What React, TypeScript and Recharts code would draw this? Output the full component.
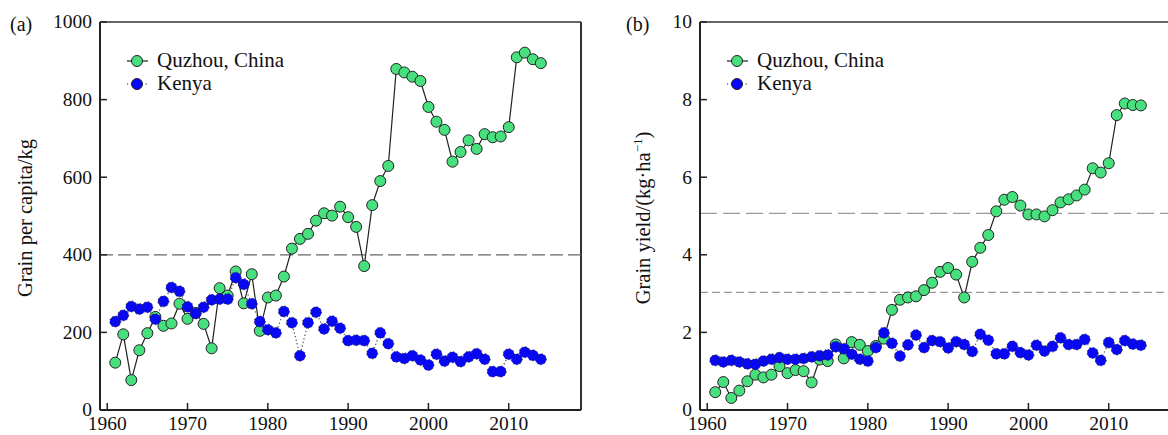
import React from "react";
import { Line, LineChart, ReferenceLine, XAxis, YAxis } from "recharts";

const years = Array.from({ length: 54 }, (_, i) => 1961 + i);

// (a) grain per capita, kg
const quzhouPerCapita = [
  122, 195, 77, 154, 198, 240, 217, 223, 274, 235,
  250, 222, 159, 314, 295, 357, 275, 350, 204, 290,
  295, 344, 416, 441, 454, 488, 507, 501, 524, 497,
  472, 371, 528, 590, 629, 879, 870, 859, 848, 781,
  743, 722, 640, 665, 695, 673, 711, 703, 705, 729,
  909, 921, 904, 894,
];
const kenyaPerCapita = [
  228, 244, 267, 260, 265, 234, 280, 316, 306, 266,
  249, 265, 284, 286, 286, 341, 324, 274, 228, 207,
  199, 254, 225, 140, 225, 252, 209, 229, 211, 179,
  180, 179, 146, 199, 171, 137, 133, 140, 129, 116,
  144, 126, 136, 125, 137, 145, 131, 99, 99, 144,
  131, 149, 141, 131,
];

// (b) grain yield
const quzhouYield = [
  0.46, 0.72, 0.31, 0.5, 0.74, 0.91, 0.84, 0.91, 1.13, 0.95,
  1.03, 1.0, 0.71, 1.3, 1.26, 1.69, 1.33, 1.75, 1.68, 1.52,
  1.65, 1.84, 2.58, 2.84, 2.9, 2.93, 3.09, 3.28, 3.56, 3.66,
  3.49, 2.9, 3.82, 4.18, 4.51, 5.12, 5.42, 5.49, 5.27, 5.04,
  5.04, 4.99, 5.15, 5.35, 5.43, 5.53, 5.68, 6.23, 6.12, 6.36,
  7.6, 7.9, 7.86, 7.85,
];
const kenyaYield = [
  1.28, 1.24, 1.28, 1.24, 1.19, 1.18, 1.26, 1.31, 1.35, 1.31,
  1.31, 1.33, 1.37, 1.4, 1.42, 1.63, 1.58, 1.44, 1.31, 1.26,
  1.61, 1.99, 1.72, 1.39, 1.68, 1.93, 1.61, 1.79, 1.76, 1.6,
  1.76, 1.69, 1.51, 1.95, 1.8, 1.45, 1.45, 1.64, 1.48, 1.42,
  1.67, 1.52, 1.64, 1.86, 1.69, 1.69, 1.82, 1.47, 1.28, 1.74,
  1.56, 1.79, 1.7, 1.67,
];

const xTicks = [1960, 1970, 1980, 1990, 2000, 2010];
const perCapitaTicks = [0, 200, 400, 600, 800, 1000];
const yieldTicks = [0, 2, 4, 6, 8, 10];

const perCapitaData = years.map((year, i) => ({
  year,
  quzhou: quzhouPerCapita[i],
  kenya: kenyaPerCapita[i],
}));
const yieldData = years.map((year, i) => ({
  year,
  quzhou: quzhouYield[i],
  kenya: kenyaYield[i],
}));

const FONT = '"Liberation Serif", "Times New Roman", serif';
const GREEN = "#48E07F";
const BLUE = "#0808F4";
const INK = "#222";
const X_DOMAIN: [number, number] = [1959.1, 2019];

function XTick({ x, y, payload }: any) {
  return (
    <g>
      <line x1={x} y1={y} x2={x} y2={y - 7} stroke={INK} strokeWidth={1.5} />
      <text x={x} y={y + 20} textAnchor="middle" fontSize={19.5} fontFamily={FONT} fill="#111">
        {payload.value}
      </text>
    </g>
  );
}

function YTick({ x, y, payload }: any) {
  return (
    <g>
      <line x1={x} y1={y} x2={x + 7} y2={y} stroke={INK} strokeWidth={1.5} />
      <text x={x - 8} y={y} dy="0.33em" textAnchor="end" fontSize={19.5} fontFamily={FONT} fill="#111">
        {payload.value}
      </text>
    </g>
  );
}

function LegendBox({ left }: { left: number }) {
  const rows = [
    { name: "Quzhou, China", fill: GREEN, dash: undefined },
    { name: "Kenya", fill: BLUE, dash: "1.2 2.5" },
  ];
  return (
    <div style={{ position: "absolute", left, top: 49, fontFamily: FONT, fontSize: 21, color: "#111" }}>
      {rows.map((r) => (
        <div key={r.name} style={{ display: "flex", alignItems: "center", height: 23 }}>
          <svg width={30} height={14} style={{ display: "block" }}>
            <line x1={0} y1={7} x2={21} y2={7} stroke={INK} strokeWidth={1.2} strokeDasharray={r.dash} />
            <circle cx={10} cy={7} r={5.5} fill={r.fill} stroke={INK} strokeWidth={1} />
          </svg>
          <span style={{ whiteSpace: "nowrap" }}>{r.name}</span>
        </div>
      ))}
    </div>
  );
}

function Panel({
  data,
  yDomain,
  yTicks,
  refLines,
  rightBorder,
}: {
  data: { year: number; quzhou: number; kenya: number }[];
  yDomain: [number, number];
  yTicks: number[];
  refLines: { y: number; stroke: string; dash: string }[];
  rightBorder: boolean;
}) {
  return (
    <LineChart width={590} height={435} data={data} margin={{ top: 22, right: 9, bottom: 0, left: 60 }}>
      <XAxis
        dataKey="year"
        type="number"
        domain={X_DOMAIN}
        ticks={xTicks}
        allowDataOverflow
        height={25}
        tickSize={0}
        tickMargin={0}
        tickLine={false}
        axisLine={{ stroke: INK, strokeWidth: 2 }}
        tick={<XTick />}
      />
      <YAxis
        type="number"
        domain={yDomain}
        ticks={yTicks}
        allowDataOverflow
        width={40}
        tickSize={0}
        tickMargin={0}
        tickLine={false}
        axisLine={{ stroke: INK, strokeWidth: 2 }}
        tick={<YTick />}
      />
      <ReferenceLine y={yDomain[1]} stroke="#333" strokeWidth={1.5} />
      {rightBorder && <ReferenceLine x={X_DOMAIN[1]} stroke="#333" strokeWidth={2} />}
      {refLines.map((r) => (
        <ReferenceLine key={r.y} y={r.y} stroke={r.stroke} strokeWidth={1.3} strokeDasharray={r.dash} />
      ))}
      <Line
        dataKey="quzhou"
        name="Quzhou, China"
        type="linear"
        stroke={INK}
        strokeWidth={1.2}
        dot={{ r: 5.5, fill: GREEN, stroke: INK, strokeWidth: 1 }}
        isAnimationActive={false}
      />
      <Line
        dataKey="kenya"
        name="Kenya"
        type="linear"
        stroke="#444"
        strokeWidth={1.2}
        strokeDasharray="1.2 2.5"
        dot={{ r: 5.5, fill: BLUE, stroke: INK, strokeWidth: 1 }}
        isAnimationActive={false}
      />
    </LineChart>
  );
}

const textStyle: React.CSSProperties = {
  position: "absolute",
  fontFamily: FONT,
  fontSize: 20,
  color: "#111",
  whiteSpace: "nowrap",
  lineHeight: 1,
};

export default function App() {
  return (
    <div
      style={{
        position: "fixed",
        left: 0,
        top: 0,
        width: 1168,
        height: 435,
        overflow: "hidden",
        background: "#fff",
      }}
    >
      <div style={{ position: "absolute", left: 0, top: 0 }}>
        <Panel
          data={perCapitaData}
          yDomain={[0, 1000]}
          yTicks={perCapitaTicks}
          refLines={[{ y: 400, stroke: "#666", dash: "13 5" }]}
          rightBorder
        />
      </div>
      <div style={{ position: "absolute", left: 600, top: 0, width: 568, height: 435, overflow: "hidden" }}>
        <Panel
          data={yieldData}
          yDomain={[0, 10]}
          yTicks={yieldTicks}
          refLines={[
            { y: 5.07, stroke: "#999", dash: "17 6" },
            { y: 3.03, stroke: "#999", dash: "8 4" },
          ]}
          rightBorder={false}
        />
      </div>
      <LegendBox left={127} />
      <LegendBox left={727} />
      <div style={{ ...textStyle, left: 10, top: 14 }}>(a)</div>
      <div style={{ ...textStyle, left: 626, top: 14 }}>(b)</div>
      <div
        style={{
          ...textStyle,
          fontSize: 20.5,
          left: 25,
          top: 218,
          transform: "translate(-50%, -50%) rotate(-90deg)",
        }}
      >
        Grain per capita/kg
      </div>
      <div
        style={{
          ...textStyle,
          fontSize: 20.5,
          left: 643,
          top: 218,
          transform: "translate(-50%, -50%) rotate(-90deg)",
        }}
      >
        Grain yield/(kg·ha<sup style={{ fontSize: 13, verticalAlign: "8px", lineHeight: 0 }}>−1</sup>)
      </div>
    </div>
  );
}
